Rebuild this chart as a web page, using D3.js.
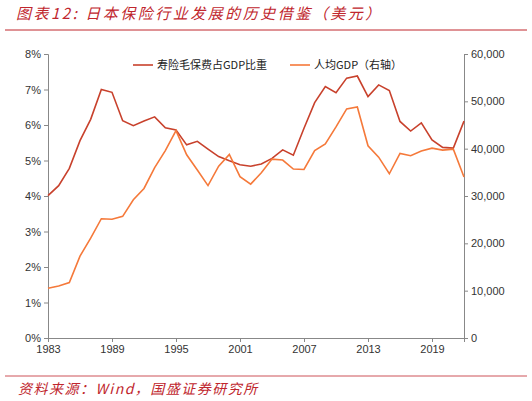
<!DOCTYPE html>
<html>
<head>
<meta charset="utf-8">
<script src="https://cdn.jsdelivr.net/npm/d3@7"></script>
<style>
  body { margin: 0; background: #fff; font-family: "Liberation Sans", Arial, sans-serif; }
</style>
</head>
<body>
<svg id="chart" width="532" height="401"></svg>
<script>
var years = d3.range(1983, 2023);
var premiumRatio = [4.01,4.29,4.78,5.56,6.16,7.00,6.92,6.12,5.98,6.11,6.23,5.92,5.86,5.44,5.54,5.32,5.11,4.99,4.88,4.84,
  4.90,5.06,5.30,5.15,5.91,6.63,7.08,6.91,7.32,7.38,6.80,7.13,6.97,6.10,5.83,6.06,5.58,5.37,5.35,6.11];
var gdpPerCapita = [10500,11000,11700,17300,21100,25200,25100,25700,29200,31600,36000,39600,43800,38700,35500,32200,36300,38800,34100,32500,
  34900,37800,37600,35700,35600,39600,41000,44600,48400,48800,40600,38200,34700,39000,38500,39500,40100,39700,39900,34000];
var xTicks = [1983,1989,1995,2001,2007,2013,2019];
var leftTicks = [0,1,2,3,4,5,6,7,8];
var rightTicks = [0,10000,20000,30000,40000,50000,60000];

var svg = d3.select("#chart");
var red = "#c8412c", orange = "#f5793a";

// title
svg.append("text").attr("x", 16).attr("y", 19)
  .attr("fill", "#c0262d").attr("font-size", 15).attr("font-style", "italic")
  .attr("letter-spacing", 2.5)
  .attr("font-family", "'Noto Sans CJK SC', sans-serif")
  .text("图表12:  日本保险行业发展的历史借鉴（美元）");
svg.append("line").attr("x1", 5).attr("x2", 527).attr("y1", 30).attr("y2", 30)
  .attr("stroke", "#c0262d").attr("stroke-width", 1);

var x = d3.scaleLinear().domain([1983, 2022]).range([48, 464]);
var yL = d3.scaleLinear().domain([0, 8]).range([338, 54]);
var yR = d3.scaleLinear().domain([0, 60000]).range([338, 54]);

svg.append("g").attr("transform", "translate(0,338)")
  .call(d3.axisBottom(x).tickValues(xTicks).tickFormat(d3.format("d")).tickSize(4))
  .call(g => g.selectAll("text").attr("font-size", 11).attr("fill", "#333"));
svg.append("g").attr("transform", "translate(48,0)")
  .call(d3.axisLeft(yL).tickValues(leftTicks).tickFormat(d => d + "%").tickSize(4))
  .call(g => g.selectAll("text").attr("font-size", 11).attr("fill", "#333"));
svg.append("g").attr("transform", "translate(464,0)")
  .call(d3.axisRight(yR).tickValues(rightTicks).tickFormat(d3.format(",")).tickSize(4))
  .call(g => g.selectAll("text").attr("font-size", 11).attr("fill", "#333"));
svg.selectAll(".domain, .tick line").attr("stroke", "#888");

svg.append("path").datum(premiumRatio)
  .attr("fill", "none").attr("stroke", red).attr("stroke-width", 1.6)
  .attr("d", d3.line().x((d, i) => x(years[i])).y(d => yL(d)));
svg.append("path").datum(gdpPerCapita)
  .attr("fill", "none").attr("stroke", orange).attr("stroke-width", 1.6)
  .attr("d", d3.line().x((d, i) => x(years[i])).y(d => yR(d)));

// legend
var legend = [["寿险毛保费占GDP比重", red, 133], ["人均GDP（右轴）", orange, 290]];
legend.forEach(function(l) {
  svg.append("line").attr("x1", l[2]).attr("x2", l[2] + 20).attr("y1", 65).attr("y2", 65)
    .attr("stroke", l[1]).attr("stroke-width", 1.6);
  svg.append("text").attr("x", l[2] + 24).attr("y", 69).attr("font-size", 11).attr("fill", "#222")
    .attr("font-family", "'Noto Sans CJK SC', sans-serif").text(l[0]);
});

// footer
svg.append("line").attr("x1", 5).attr("x2", 527).attr("y1", 376).attr("y2", 376)
  .attr("stroke", "#c0262d").attr("stroke-width", 0.8);
svg.append("text").attr("x", 18).attr("y", 394).attr("font-size", 14).attr("font-style", "italic")
  .attr("letter-spacing", 1.5)
  .attr("fill", "#c0262d").attr("font-family", "'Noto Sans CJK SC', sans-serif")
  .text("资料来源：Wind，国盛证券研究所");
</script>
</body>
</html>
